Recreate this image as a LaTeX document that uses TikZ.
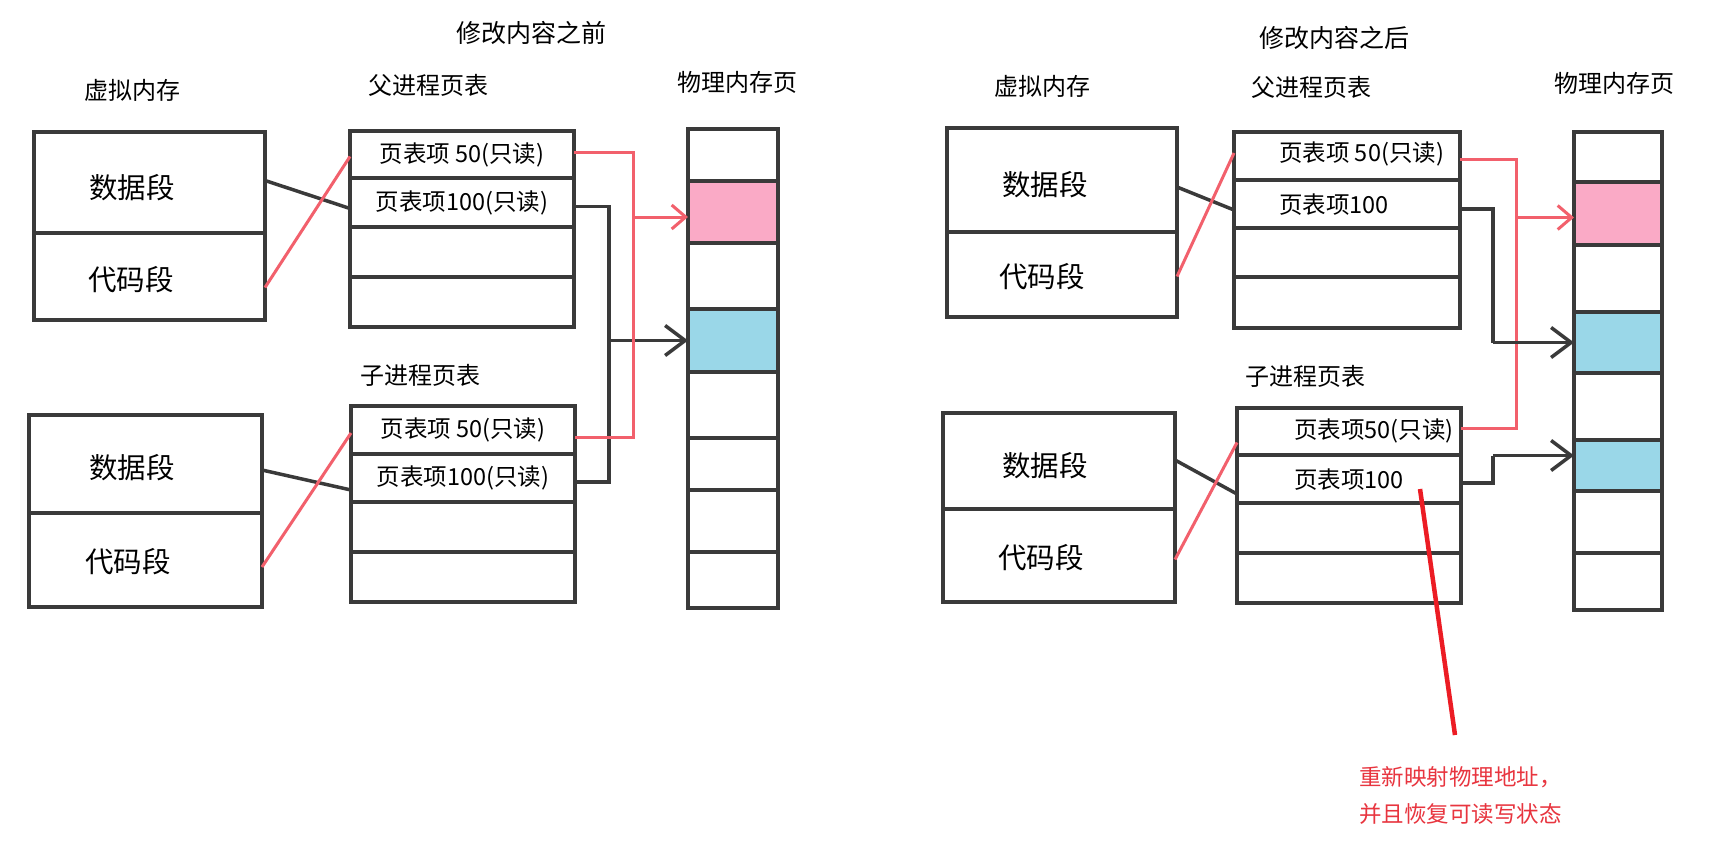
\documentclass[tikz,border=0pt]{standalone}
\usepackage{fontspec}
\newfontfamily\cjk{Noto Sans CJK SC}
\usetikzlibrary{arrows.meta}
\definecolor{ln}{HTML}{3A3A3A}
\definecolor{rl}{HTML}{F2606C}
\definecolor{pk}{HTML}{FAAAC6}
\definecolor{bl}{HTML}{9AD7E8}
\definecolor{ann}{HTML}{EC1C24}
\definecolor{anntxt}{HTML}{E8353F}
\begin{document}
\begin{tikzpicture}[x=1pt,y=-1pt,
  box/.style={draw=ln, line width=3.5pt, inner sep=0pt, outer sep=0pt, anchor=north west, rectangle},
  head/.style={font=\cjk\fontsize{24}{26}\selectfont, inner sep=0pt},
  ttl/.style={font=\cjk\fontsize{25}{27}\selectfont, inner sep=0pt},
  seg/.style={font=\cjk\fontsize{28.5}{30}\selectfont, inner sep=0pt},
  pte/.style={font=\cjk\fontsize{23.5}{25}\selectfont},
  ptw/.style={font=\cjk\fontsize{23.5}{25}\selectfont, inner sep=0pt, anchor=west},
  bline/.style={draw=ln, line width=3.5pt},
  rline/.style={draw=rl, line width=3pt},
  barb/.style={-{Straight Barb[length=20pt,width=30pt,line width=3.5pt]}},
  rbarb/.style={-{Straight Barb[length=14pt,width=24pt,line width=3pt]}},
  annline/.style={draw=ann, line width=4.5pt},
  note/.style={font=\cjk\fontsize{22.5}{37}\selectfont, text=anntxt, align=left, inner sep=0pt, anchor=west}
]
\useasboundingbox[fill=white] (0,0) rectangle (1723,862);

% ================= LEFT PANEL =================
\node[ttl] (Ltitle) at (531,33) {修改内容之前};
\node[head] (Lvm) at (132,90) {虚拟内存};
\node[head] (Lpp) at (428,85) {父进程页表};
\node[head] (Lphy) at (737,82) {物理内存页};
\node[head] (Lcp) at (420,375) {子进程页表};

% virtual memory boxes
\node[box, minimum width=231, minimum height=101] (LV1d) at (34,132) {};
\node[box, minimum width=231, minimum height=87] (LV1c) at (34,233) {};
\node[seg] (LV1dt) at (132,188) {数据段};
\node[seg] (LV1ct) at (131,280) {代码段};
\node[box, minimum width=233, minimum height=98] (LV2d) at (29,415) {};
\node[box, minimum width=233, minimum height=94] (LV2c) at (29,513) {};
\node[seg] (LV2dt) at (132,468) {数据段};
\node[seg] (LV2ct) at (128,562) {代码段};

% parent page table
\node[box, minimum width=224, minimum height=47, pte] (LP1) at (350,131) {页表项 50(只读)};
\node[box, minimum width=224, minimum height=49, pte] (LP2) at (350,178) {页表项100(只读)};
\node[box, minimum width=224, minimum height=50] (LP3) at (350,227) {};
\node[box, minimum width=224, minimum height=50] (LP4) at (350,277) {};
% child page table
\node[box, minimum width=224, minimum height=48, pte] (LC1) at (351,406) {页表项 50(只读)};
\node[box, minimum width=224, minimum height=48, pte] (LC2) at (351,454) {页表项100(只读)};
\node[box, minimum width=224, minimum height=50] (LC3) at (351,502) {};
\node[box, minimum width=224, minimum height=50] (LC4) at (351,552) {};

% physical pages
\foreach \n/\ya/\yb/\f in {0/129/181/white,1/181/243/pk,2/243/309/white,3/309/372/bl,4/372/438/white,5/438/490/white,6/490/552/white,7/552/608/white}
  \node[box, fill=\f, minimum width=90, minimum height=\yb-\ya] (LM\n) at (688,\ya) {};

% virtual -> page table
\draw[bline] ([yshift=2pt]LV1d.east) -- ([yshift=-6pt]LP2.west);
\draw[rline] ([yshift=-11pt]LV1c.east) -- ([yshift=-2pt]LP1.west);
\draw[bline] ([yshift=-6pt]LV2d.east) -- ([yshift=-12pt]LC2.west);
\draw[rline] ([yshift=-7pt]LV2c.east) -- ([yshift=-3pt]LC1.west);

% page table -> physical
\coordinate (LrX) at (633,0);
\coordinate (LbX) at (609,0);
\draw[bline] ([yshift=-4pt]LP2.east) -- ([yshift=-4pt]LP2.east -| LbX) -- ([yshift=-4pt]LC2.east -| LbX) -- ([yshift=-4pt]LC2.east);
\draw[bline, barb] (LM3.west -| LbX) -- (LM3.west);
\draw[rline] ([yshift=2pt]LP1.east) -- ([yshift=2pt]LP1.east -| LrX) -- ([yshift=-7pt]LC1.east -| LrX) -- ([yshift=-7pt]LC1.east);
\draw[rline, rbarb] ([yshift=-5pt]LM1.west -| LrX) -- ([yshift=-5pt]LM1.west);

% ================= RIGHT PANEL =================
\node[ttl] (Rtitle) at (1334,38) {修改内容之后};
\node[head] (Rvm) at (1042,86) {虚拟内存};
\node[head] (Rpp) at (1311,87) {父进程页表};
\node[head] (Rphy) at (1614,83) {物理内存页};
\node[head] (Rcp) at (1305,376) {子进程页表};

\node[box, minimum width=230, minimum height=104] (RV1d) at (947,128) {};
\node[box, minimum width=230, minimum height=85] (RV1c) at (947,232) {};
\node[seg] (RV1dt) at (1045,185) {数据段};
\node[seg] (RV1ct) at (1042,277) {代码段};
\node[box, minimum width=232, minimum height=96] (RV2d) at (943,413) {};
\node[box, minimum width=232, minimum height=93] (RV2c) at (943,509) {};
\node[seg] (RV2dt) at (1045,466) {数据段};
\node[seg] (RV2ct) at (1041,558) {代码段};

\node[box, minimum width=226, minimum height=48] (RP1) at (1234,132) {};
\node[box, minimum width=226, minimum height=48] (RP2) at (1234,180) {};
\node[box, minimum width=226, minimum height=49] (RP3) at (1234,228) {};
\node[box, minimum width=226, minimum height=51] (RP4) at (1234,277) {};
\node[ptw] (RP1t) at (1279,154) {页表项 50(只读)};
\node[ptw] (RP2t) at (1279,205) {页表项100};

\node[box, minimum width=224, minimum height=47] (RC1) at (1237,408) {};
\node[box, minimum width=224, minimum height=48] (RC2) at (1237,455) {};
\node[box, minimum width=224, minimum height=50] (RC3) at (1237,503) {};
\node[box, minimum width=224, minimum height=50] (RC4) at (1237,553) {};
\node[ptw] (RC1t) at (1294,431) {页表项50(只读)};
\node[ptw] (RC2t) at (1294,480) {页表项100};

\foreach \n/\ya/\yb/\f in {0/132/182/white,1/182/245/pk,2/245/312/white,3/312/373/bl,4/373/440/white,5/440/491/bl,6/491/553/white,7/553/610/white}
  \node[box, fill=\f, minimum width=88, minimum height=\yb-\ya] (RM\n) at (1574,\ya) {};

% virtual -> page table
\draw[bline] ([yshift=-7pt]RV1d.east) -- ([yshift=-6pt]RP2.west);
\draw[rline] ([yshift=-2pt]RV1c.east) -- ([yshift=3pt]RP1.west);
\draw[bline] ([yshift=1pt]RV2d.east) -- ([yshift=-15pt]RC2.west);
\draw[rline] ([yshift=-4pt]RV2c.east) -- ([yshift=-11pt]RC1.west);

% page table -> physical
\coordinate (RrX) at (1516,0);
\coordinate (RbX) at (1493,0);
\draw[rline] ([yshift=-3pt]RP1.east) -- ([yshift=-3pt]RP1.east -| RrX) -- ([yshift=3pt]RC1.east -| RrX) -- ([yshift=3pt]RC1.east);
\draw[rline, rbarb] ([yshift=-4pt]RM1.west -| RrX) -- ([yshift=-4pt]RM1.west);
\draw[bline] ([yshift=-5pt]RP2.east) -- ([yshift=-5pt]RP2.east -| RbX) -- (RM3.west -| RbX);
\draw[bline, barb] (RM3.west -| RbX) -- (RM3.west);
\draw[bline] ([yshift=-4pt]RC2.east) -- ([yshift=-4pt]RC2.east -| RbX) -- ([yshift=10pt]RM5.west -| RbX);
\draw[bline, barb] ([yshift=10pt]RM5.west -| RbX) -- ([yshift=10pt]RM5.west);

% annotation
\coordinate (annS) at (1420,489);
\coordinate (annE) at (1455,735);
\draw[annline] (annS) -- (annE);
\node[note] (annT) at (1359,795) {重新映射物理地址，\\并且恢复可读写状态};
\end{tikzpicture}
\end{document}
